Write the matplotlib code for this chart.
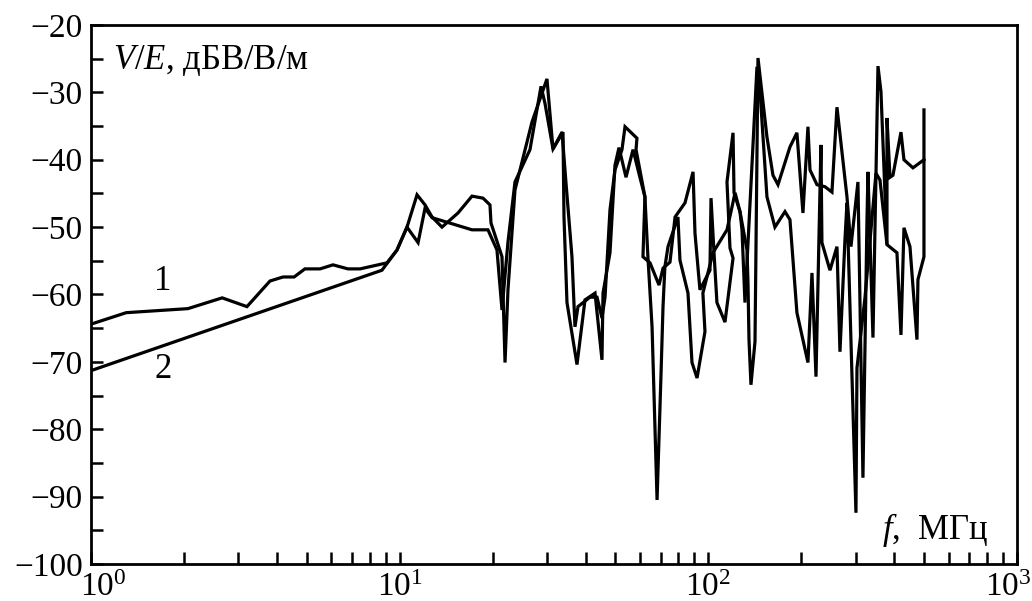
import matplotlib
matplotlib.use("Agg")
import matplotlib.pyplot as plt
import matplotlib.transforms as mtransforms
from matplotlib.ticker import LogLocator, MultipleLocator, FixedLocator

plt.rcParams['font.family'] = ['Liberation Serif', 'DejaVu Serif']
plt.rcParams['mathtext.fontset'] = 'custom'
plt.rcParams['mathtext.rm'] = 'Liberation Serif'
plt.rcParams['mathtext.it'] = 'Liberation Serif:italic'
plt.rcParams['mathtext.bf'] = 'Liberation Serif:bold'

# Curve 1: frequency (MHz) and V/E (dB V/V/m)
f1 = [1.00, 1.30, 2.06, 2.66, 3.20, 3.80, 4.19, 4.55, 4.93, 5.52, 6.08, 6.80, 7.44,
      9.10, 9.80, 10.56, 11.47, 12.08, 12.73, 17.15, 19.32, 20.66, 21.45, 22.43,
      23.63, 26.43, 28.70, 29.55, 31.38, 33.81, 34.06, 34.83, 37.53, 39.84, 42.93,
      45.22, 45.57, 48.01, 49.83, 51.34, 54.1, 57.0, 60.0, 62.3, 61.4, 64.7, 69.2,
      71.3, 75.1, 78.0, 84.0, 89.2, 90.5, 93.9, 101.2, 102.0, 104.3, 106.6, 113.2,
      120.2, 117.5, 114.9, 120.2, 121.1, 126.6, 133.4, 134.4, 135.4, 137.4, 141.6,
      144.8, 154.8, 161.9, 168.1, 183.8, 193.6, 202.5, 210.2, 213.4, 224.8, 238.6,
      251.4, 261.0, 281.2, 289.7, 305.2, 316.8, 326.4, 328.9, 341.4, 354.4, 362.4,
      379.0, 379.0, 387.6, 396.3, 420.7, 430.2, 460.1, 499.4]
v1 = [-64.4, -62.7, -62.1, -60.5, -61.8, -58.0, -57.4, -57.4, -56.2, -56.2, -55.6, -56.2, -56.2,
      -55.3, -53.4, -50.0, -52.3, -47.2, -48.6, -50.4, -50.4, -53.4, -62.3, -52.2,
      -43.3, -38.5, -29.1, -31.6, -38.4, -35.9, -48.5, -61.2, -70.4, -60.8, -59.8,
      -69.7, -59.8, -53.8, -40.8, -38.2, -42.6, -38.5, -42.6, -45.5, -54.4, -55.3, -58.6,
      -56.1, -55.2, -48.5, -46.4, -41.8, -50.9, -59.3, -56.4, -45.7, -53.8, -61.2, -64.1,
      -54.6, -53.1, -43.3, -36.0, -44.9, -47.7, -53.4, -58.3, -66.7, -73.4, -67.0,
      -24.9, -36.6, -42.3, -43.7, -38.1, -36.0, -47.9, -35.1, -41.5, -43.7, -44.0,
      -44.8, -32.2, -45.5, -52.9, -43.3, -87.2, -49.2, -41.8, -66.4, -26.1, -29.9,
      -52.6, -33.8, -42.6, -42.3, -35.9, -40.0, -41.2, -40.0]

# Curve 2
f2 = [1.00, 8.76, 9.80, 10.56, 11.38, 12.08, 12.73, 13.71, 15.45, 17.15, 18.62, 19.61,
      19.76, 20.36, 21.45, 21.94, 22.43, 23.63, 26.83, 30.0, 31.38, 33.57, 34.57, 36.15,
      36.97, 37.81, 41.36, 43.58, 45.22, 46.26, 48.01, 49.83, 52.5, 53.7, 58.7, 58.3,
      62.3, 63.7, 65.7, 68.2, 70.2, 71.3, 72.3, 74.0, 79.7, 80.9, 85.9, 88.5, 91.9,
      97.5, 96.0, 103.5, 114.9, 119.3, 122.0, 126.6, 128.5, 131.4, 143.7, 146.9, 154.8,
      164.3, 177.1, 183.8, 193.6, 210.2, 216.6, 223.2, 231.6, 233.3, 247.7, 261.0,
      266.9, 277.0, 281.2, 300.7, 303.0, 321.6, 349.1, 359.7, 379.0, 408.3, 420.7,
      430.2, 449.9, 474.0, 477.5, 499.4, 499.4]
v2 = [-71.3, -56.4, -53.4, -50.0, -45.2, -46.7, -48.5, -50.0, -47.9, -45.4, -45.7, -46.7,
      -49.4, -51.2, -54.4, -70.1, -59.3, -44.5, -34.4, -28.0, -38.4, -35.9, -43.4, -54.4,
      -64.8, -61.8, -60.4, -60.4, -63.5, -60.4, -47.4, -41.5, -38.5, -35.1, -36.8, -38.5,
      -45.5, -54.4, -64.8, -90.5, -72.2, -61.8, -55.9, -52.9, -48.5, -54.9, -59.8, -70.1, -72.4,
      -65.5, -59.8, -53.8, -50.4, -47.0, -44.9, -47.7, -50.4, -61.2, -26.2, -29.6, -45.5,
      -50.0, -47.7, -48.9, -62.7, -70.1, -56.8, -72.2, -37.8, -52.3, -56.4, -52.9,
      -68.5, -51.9, -46.4, -92.4, -70.9, -60.5, -42.0, -43.0, -52.6, -53.8, -66.0,
      -50.1, -52.9, -66.7, -57.8, -54.4, -32.6]

x_ticks = [1, 10, 100, 1000]
x_tick_labels = ["$10^{0}$", "$10^{1}$", "$10^{2}$", "$10^{3}$"]
curve_labels = ["1", "2"]
curve_label_pos = [(1.71, -58.1), (1.71, -71.2)]
y_label_text = "$V/E$, дБВ/В/м"
x_label_text = "$f$,  МГц"

fig = plt.figure(figsize=(10.32, 6.01), dpi=100)
ax = fig.add_axes([0.0882, 0.0616, 0.8973, 0.8968])

ax.plot(f1, v1, color='black', lw=2.3, solid_joinstyle='miter')
ax.plot(f2, v2, color='black', lw=2.3, solid_joinstyle='miter')

ax.set_xscale('log')
ax.set_xlim(1, 1000)
ax.set_ylim(-100, -20)
ax.yaxis.set_major_locator(MultipleLocator(10))
ax.yaxis.set_minor_locator(MultipleLocator(5))
ax.xaxis.set_major_locator(FixedLocator(x_ticks))
ax.xaxis.set_minor_locator(LogLocator(base=10, subs=range(2, 10), numticks=20))
ax.set_xticklabels(x_tick_labels)

for s in ax.spines.values():
    s.set_linewidth(2.0)

ax.tick_params(which='both', direction='in', length=8.5, width=1.8,
               top=False, right=False, labelsize=24, colors='black')
ax.tick_params(axis='y', which='major', pad=6)
ax.tick_params(axis='x', which='major', pad=6)

# nudge the end labels inside the figure as in the reference
ticks = ax.xaxis.get_major_ticks()
shifts = {0: 12, 3: -9}
for i, dx in shifts.items():
    lab = ticks[i].label1
    lab.set_transform(lab.get_transform() +
                      mtransforms.ScaledTranslation(dx / 100.0, 0, fig.dpi_scale_trans))

for lab, (x, y) in zip(curve_labels, curve_label_pos):
    ax.text(x, y, lab, fontsize=25, ha='center', va='center')

ax.text(0.024, 0.935, y_label_text, transform=ax.transAxes, fontsize=25,
        ha='left', va='center')
ax.text(0.9687, 0.063, x_label_text, transform=ax.transAxes, fontsize=25,
        ha='right', va='center')

fig.savefig('out.png', dpi=100)
